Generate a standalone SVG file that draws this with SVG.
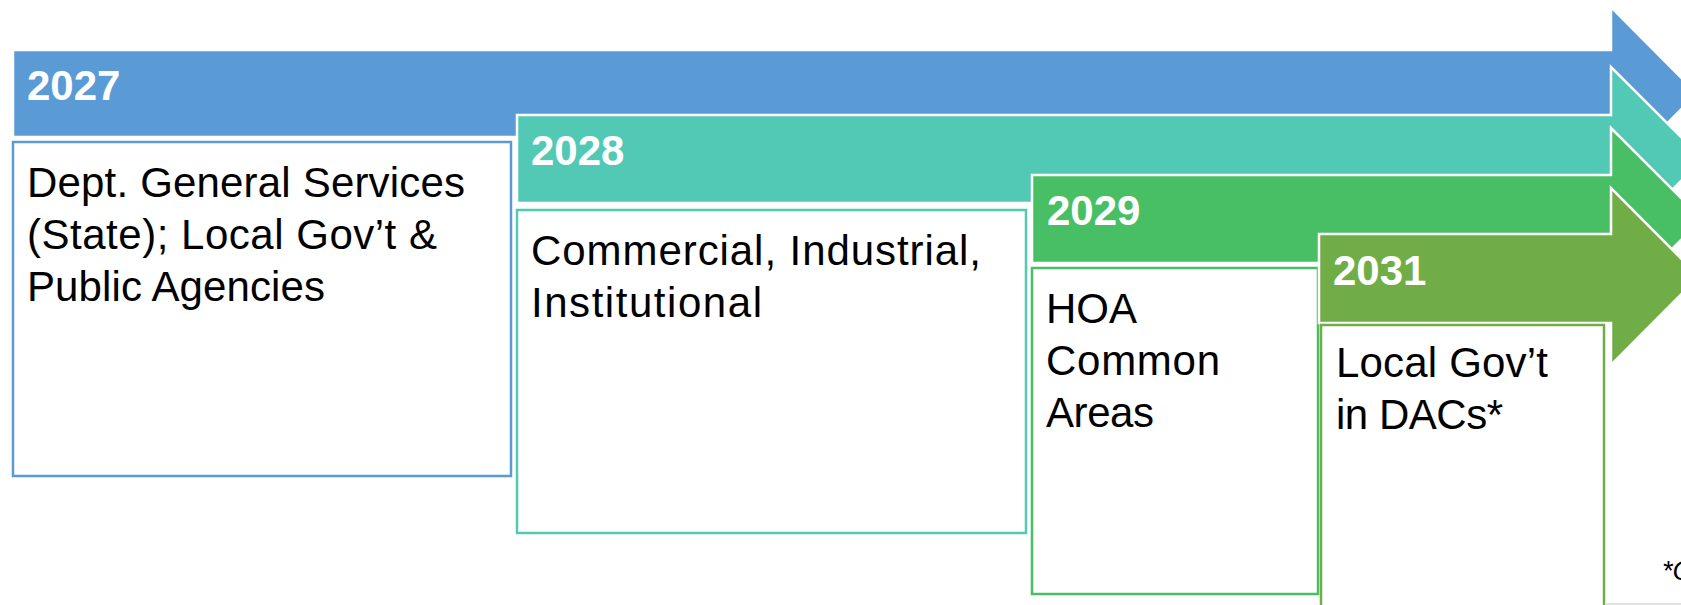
<svg xmlns="http://www.w3.org/2000/svg" width="1681" height="605" viewBox="0 0 1681 605">
<style>
.band{stroke:#ffffff;stroke-width:2.5;stroke-linejoin:miter}
.box{fill:#ffffff;stroke-width:2.5}
.yr{font-family:"Liberation Sans",Arial,sans-serif;font-weight:bold;font-size:42px;fill:#ffffff}
.txt{font-family:"Liberation Sans",Arial,sans-serif;font-size:42px;fill:#000000}
.note{font-family:"Liberation Sans",Arial,sans-serif;font-style:italic;font-size:27px;fill:#000000}
</style>
<rect x="0" y="0" width="1681" height="605" fill="#ffffff"/>
<g id="connectors"></g>
<g id="node-2027">
<polygon class="band" fill="#5B9BD5" points="13,50 1611,50 1611,7 1697,93.5 1611,180 1611,137 13,137"/>
<rect class="box" x="13" y="142" width="498" height="334" stroke="#5B9BD5"/>
<text class="yr" x="27" y="100">2027</text>
<text class="txt" x="27" y="197" textLength="438" lengthAdjust="spacing">Dept. General Services</text>
<text class="txt" x="27" y="249" textLength="410" lengthAdjust="spacing">(State); Local Gov’t &amp;</text>
<text class="txt" x="27" y="301" textLength="298" lengthAdjust="spacing">Public Agencies</text>
</g>
<g id="node-2028">
<polygon class="band" fill="#52C9B5" points="517,115 1611,115 1611,67 1703,159 1611,251 1611,203 517,203"/>
<rect class="box" x="517" y="210" width="509" height="323" stroke="#52C9B5"/>
<text class="yr" x="531" y="165">2028</text>
<text class="txt" x="531" y="265" textLength="450" lengthAdjust="spacing">Commercial, Industrial,</text>
<text class="txt" x="531" y="317" textLength="231" lengthAdjust="spacing">Institutional</text>
</g>
<g id="node-2029">
<polygon class="band" fill="#49BF65" points="1032,175 1611,175 1611,128 1702,219 1611,310 1611,263 1032,263"/>
<rect class="box" x="1032" y="268" width="286" height="326" stroke="#49BF65"/>
<text class="yr" x="1047" y="225">2029</text>
<text class="txt" x="1046" y="323">HOA</text>
<text class="txt" x="1046" y="375" textLength="174" lengthAdjust="spacing">Common</text>
<text class="txt" x="1046" y="427" textLength="108" lengthAdjust="spacing">Areas</text>
</g>
<g id="node-2031">
<polygon class="band" fill="#70AD47" points="1319,234 1611,234 1611,188 1699,276.5 1611,365 1611,323 1319,323"/>
<rect class="box" x="1321" y="325" width="283" height="300" stroke="#70AD47"/>
<text class="yr" x="1333" y="285">2031</text>
<text class="txt" x="1336" y="377" textLength="212" lengthAdjust="spacing">Local Gov’t</text>
<text class="txt" x="1336" y="429" textLength="167" lengthAdjust="spacing">in DACs*</text>
</g>
<g id="footnote">
<line x1="1606" y1="604" x2="1681" y2="604" stroke="#d9d9d9" stroke-width="1.5"/>
<text class="note" x="1662" y="580">*C</text>
</g>
</svg>
